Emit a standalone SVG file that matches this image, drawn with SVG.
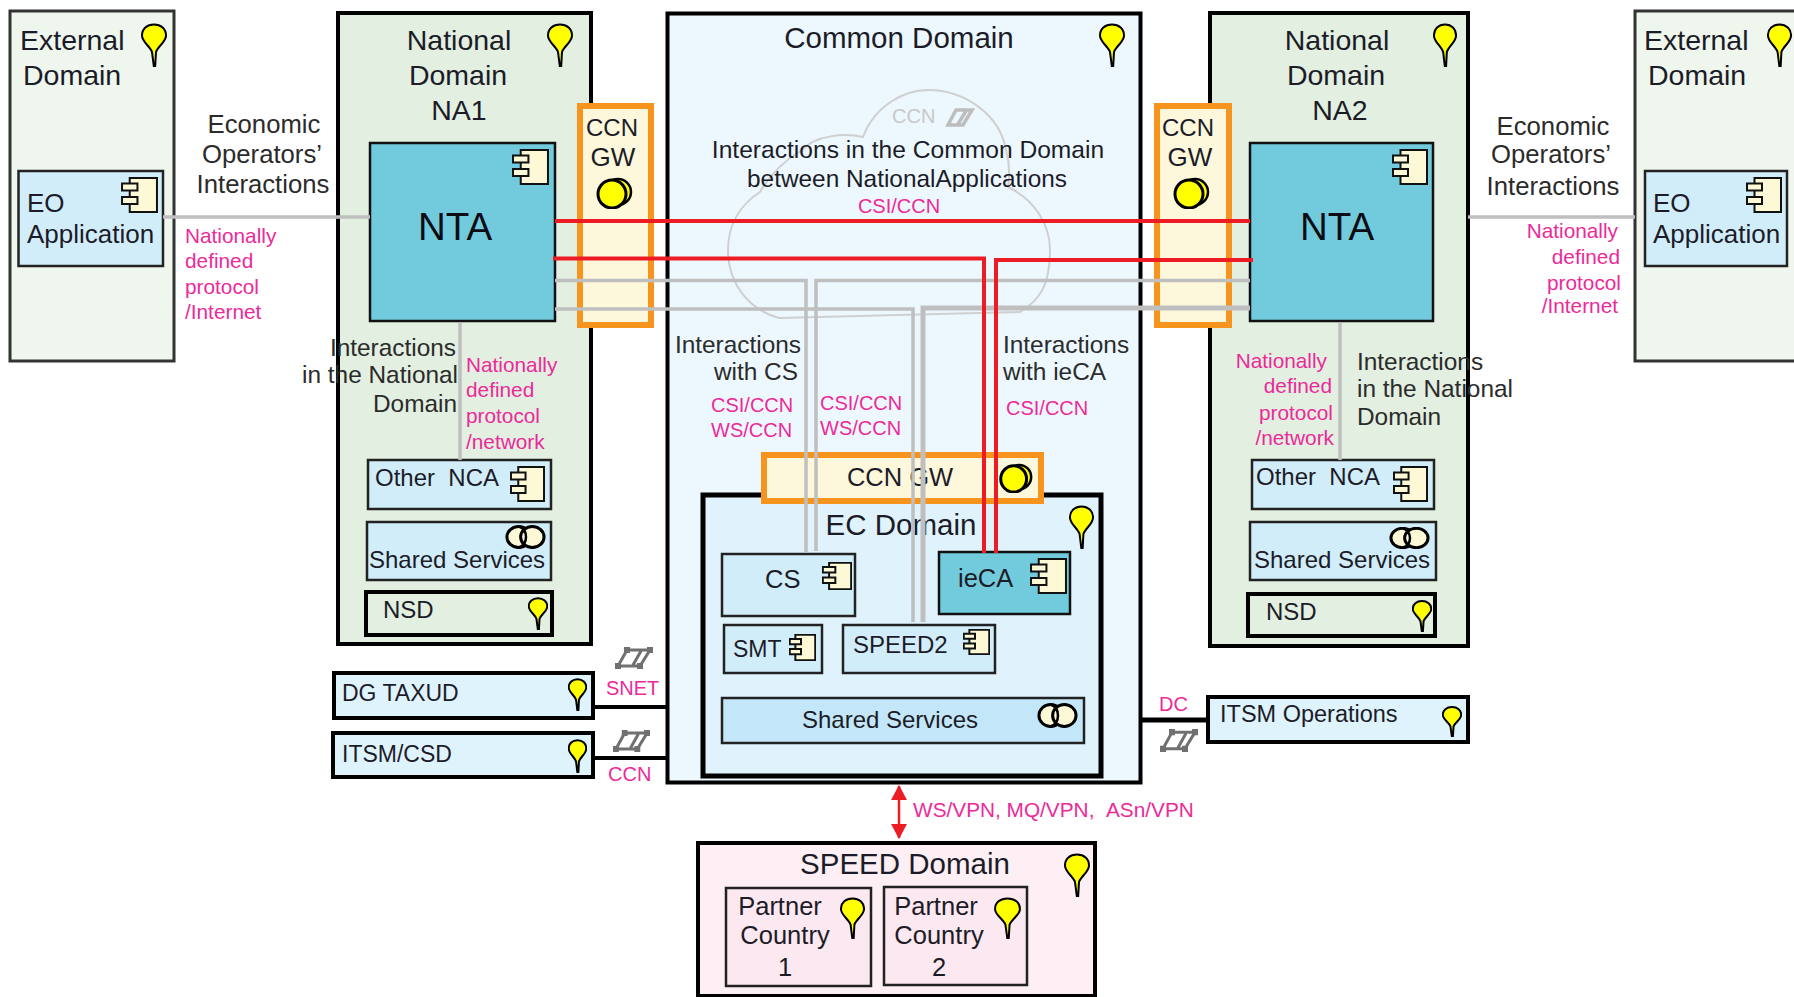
<svg xmlns="http://www.w3.org/2000/svg" xmlns:xlink="http://www.w3.org/1999/xlink" width="1794" height="997" viewBox="0 0 1794 997">
<style>
text{font-family:"Liberation Sans",Arial,sans-serif;fill:#1c1c28}
.f28{font-size:28.500px}.h{font-size:29.500px}.f26{font-size:26px}.f25{font-size:25.500px}.f24{font-size:24px}.f23{font-size:23px}
.c{text-anchor:middle}.e{text-anchor:end}
.p{font-size:20.800px;fill:#ec2a9a}
.g{font-size:24.400px;fill:#2b2b2b}
.g2{font-size:25.700px;fill:#2b2b2b}
.ext{fill:#eff6ee;stroke:#333;stroke-width:3}
.nat{fill:#e2efe1;stroke:#000;stroke-width:4}
.com{fill:#ecf8fe;stroke:#000;stroke-width:4}
.ecd{fill:#e0f3fd;stroke:#000;stroke-width:5}
.gw{fill:#fdf8dc;stroke:#f7941e;stroke-width:6}
.nta{fill:#72cbdc;stroke:#111;stroke-width:2.500}
.app{fill:#d2edfa;stroke:#222;stroke-width:2.500}
.org{fill:#dff3fd;stroke:#000;stroke-width:4}
.nsd{fill:#e2efe1;stroke:#000;stroke-width:4}
.spd{fill:#fdeff4;stroke:#000;stroke-width:4}
.pc{fill:#fce8f0;stroke:#222;stroke-width:2.500}
.s{vector-effect:non-scaling-stroke}
.red{fill:none;stroke:#ed1c24;stroke-width:4}
.gry{fill:none;stroke:#bfbfbf;stroke-width:3.500}
.blk{fill:none;stroke:#000;stroke-width:4}
</style>
<defs>
<symbol id="pin" viewBox="0 0 26 44" preserveAspectRatio="none">
<path class="s" d="M13 1.500C20 1.500 25 6 25 12.500C25 19 17 23 15 29L14.200 43H12.800L11 29C9 23 1 19 1 12.500C1 6 6 1.500 13 1.500Z" fill="#ffff00" stroke="#000" stroke-width="2"/>
</symbol>
<symbol id="comp" viewBox="0 0 36 36" preserveAspectRatio="none">
<path class="s" d="M8.500 1H35V35H8.500Z" fill="#fdf8d5" stroke="#111" stroke-width="2"/>
<rect class="s" x="1" y="6.500" width="15" height="7" fill="#fdf8d5" stroke="#111" stroke-width="2"/>
<rect class="s" x="1" y="20" width="15" height="7" fill="#fdf8d5" stroke="#111" stroke-width="2"/>
</symbol>
<symbol id="iface" viewBox="0 0 38 32" preserveAspectRatio="none">
<circle class="s" cx="23" cy="15" r="13" fill="#ffff00" stroke="#000" stroke-width="2.500"/>
<circle class="s" cx="17" cy="17" r="14" fill="#ffff00" stroke="#000" stroke-width="3"/>
</symbol>
<symbol id="collab" viewBox="0 0 42 25" preserveAspectRatio="none">
<ellipse class="s" cx="14" cy="12.500" rx="12" ry="11" fill="#fdf8d5" stroke="#000" stroke-width="3"/>
<ellipse class="s" cx="28" cy="12.500" rx="12" ry="11" fill="#fdf8d5" stroke="#000" stroke-width="3"/>
<path class="s" d="M14 1.500C24 5 24 20 14 23.500" fill="none" stroke="#000" stroke-width="2.500"/>
</symbol>
<symbol id="net" viewBox="0 0 38 22" preserveAspectRatio="none">
<path class="s" d="M12 3H35L25 19H3ZM12 3L3 19M26 4L18 18" fill="none" stroke="#707070" stroke-width="3"/>
<g fill="#707070"><rect x="9" y="0" width="6" height="6"/><rect x="32" y="0" width="6" height="6"/><rect x="22" y="16" width="6" height="6"/><rect x="0" y="16" width="6" height="6"/></g>
</symbol>
<marker id="ah" viewBox="0 0 16 16" refX="14" refY="8" markerWidth="16" markerHeight="16" markerUnits="userSpaceOnUse" orient="auto-start-reverse">
<path d="M0 0L15 8L0 16Z" fill="#ed1c24"/>
</marker>
</defs>

<g id="external-left">
<rect class="ext" x="10" y="11" width="164" height="350"/>
<text class="f28" x="20" y="50">External</text><text class="f28" x="23" y="85">Domain</text>
<use href="#pin" x="141" y="23" width="26" height="44"/>
</g>
<g id="eo-app-left">
<rect class="app" x="18.500" y="171" width="144.500" height="95"/>
<text class="f26" x="27" y="212">EO</text><text class="f26" x="27" y="243">Application</text>
<use href="#comp" x="121" y="177" width="37" height="36"/>
</g>

<g id="national-na1">
<rect class="nat" x="338" y="13" width="253" height="631"/>
<text class="f28 c" x="459" y="50">National</text><text class="f28 c" x="458" y="85">Domain</text><text class="f28 c" x="459" y="120">NA1</text>
<use href="#pin" x="547" y="23" width="26" height="44"/>
</g>
<g id="nta-1">
<rect class="nta" x="370" y="143" width="185" height="178"/>
<text class="c" x="455" y="240" style="font-size:38.500px;fill:#0c0c14">NTA</text>
<use href="#comp" x="512" y="149" width="37" height="36"/>
</g>
<g id="gw-left">
<rect class="gw" x="580" y="106" width="71" height="219"/>
<text class="f24 c" x="612" y="136" textLength="52" lengthAdjust="spacingAndGlyphs">CCN</text><text class="f26 c" x="613" y="166">GW</text>
<use href="#iface" x="595" y="177" width="38" height="32"/>
</g>
<g id="other-nca-1">
<rect class="app" x="368" y="460" width="183" height="49"/>
<text class="f24" x="375" y="486">Other&#160;&#160;NCA</text>
<use href="#comp" x="510" y="466" width="35" height="36"/>
</g>
<g id="shared-1">
<rect class="app" x="367" y="522" width="184" height="58"/>
<text class="f24" x="369" y="568">Shared Services</text>
<use href="#collab" x="505" y="525" width="41" height="24"/>
</g>
<g id="nsd-1">
<rect class="nsd" x="366" y="592" width="186" height="43"/>
<text class="f24" x="383" y="618">NSD</text>
<use href="#pin" x="528" y="597" width="20" height="33"/>
</g>

<g id="common-domain">
<rect class="com" x="667.500" y="13.500" width="473" height="769"/>
<path d="M863 137C875 105 905 90 928 90C965 90 1000 115 1006 150C1010 165 1010 175 1008 187C1035 200 1050 225 1050 250C1050 285 1040 300 1020 312L779 318C750 310 728 285 728 250C728 225 740 205 760 192C770 175 785 160 802 150C815 135 845 133 863 137Z" fill="none" stroke="#cfcfcf" stroke-width="2"/>
<text x="892" y="123" style="font-size:20px;fill:#c8c8c8">CCN</text>
<path d="M956 110H972L963 125H948ZM966 111L958 124" fill="none" stroke="#bdbdbd" stroke-width="3.500"/>
<text class="h c" x="899" y="48">Common Domain</text>
<use href="#pin" x="1099" y="23" width="26" height="44"/>
<text class="c" x="908" y="158" style="font-size:24.600px">Interactions in the Common Domain</text>
<text class="c" x="907" y="187" style="font-size:24.400px">between NationalApplications</text>
</g>

<g id="ec-domain">
<rect class="ecd" x="703" y="495" width="398" height="281"/>
<text class="h c" x="901" y="535">EC Domain</text>
<use href="#pin" x="1069" y="505" width="25" height="44"/>
</g>
<g id="gw-center">
<rect class="gw" x="764" y="455" width="277" height="46"/>
<text class="c" x="900" y="486" style="font-size:25.500px">CCN GW</text>
<use href="#iface" x="998" y="463" width="35" height="30"/>
</g>
<g id="cs">
<rect class="app" x="722" y="554" width="133" height="62"/>
<text class="f25" x="765" y="588">CS</text>
<use href="#comp" x="822" y="562" width="30" height="28"/>
</g>
<g id="ieca">
<rect class="nta" x="939" y="552" width="131" height="62"/>
<text class="f25" x="958" y="587">ieCA</text>
<use href="#comp" x="1030" y="558" width="37" height="36"/>
</g>
<g id="smt">
<rect class="app" x="724" y="625" width="98" height="48"/>
<text class="f23" x="733" y="657">SMT</text>
<use href="#comp" x="789" y="634" width="27" height="27"/>
</g>
<g id="speed2">
<rect class="app" x="843" y="625" width="152" height="48"/>
<text class="f24" x="853" y="653">SPEED2</text>
<use href="#comp" x="963" y="629" width="27" height="26"/>
</g>
<g id="shared-ec">
<rect x="722" y="698" width="362" height="45" fill="#c3e7f8" stroke="#222" stroke-width="2.500"/>
<text class="f24 c" x="890" y="728">Shared Services</text>
<use href="#collab" x="1037" y="703" width="41" height="25"/>
</g>

<g id="national-na2">
<rect class="nat" x="1210" y="13" width="258" height="633"/>
<text class="f28 c" x="1337" y="50">National</text><text class="f28 c" x="1336" y="85">Domain</text><text class="f28 c" x="1340" y="120">NA2</text>
<use href="#pin" x="1433" y="23" width="24" height="44"/>
</g>
<g id="nta-2">
<rect class="nta" x="1250" y="143" width="183" height="178"/>
<text class="c" x="1337" y="240" style="font-size:38.500px;fill:#0c0c14">NTA</text>
<use href="#comp" x="1392" y="149" width="36" height="36"/>
</g>
<g id="gw-right">
<rect class="gw" x="1157" y="106" width="72" height="219"/>
<text class="f24 c" x="1188" y="136" textLength="52" lengthAdjust="spacingAndGlyphs">CCN</text><text class="f26 c" x="1190" y="166">GW</text>
<use href="#iface" x="1172" y="177" width="38" height="32"/>
</g>
<g id="other-nca-2">
<rect class="app" x="1252" y="460" width="182" height="49"/>
<text class="f24" x="1256" y="485">Other&#160;&#160;NCA</text>
<use href="#comp" x="1393" y="466" width="35" height="36"/>
</g>
<g id="shared-2">
<rect class="app" x="1250" y="522" width="186" height="58"/>
<text class="f24" x="1254" y="568">Shared Services</text>
<use href="#collab" x="1389" y="527" width="41" height="22"/>
</g>
<g id="nsd-2">
<rect class="nsd" x="1248" y="594" width="187" height="42"/>
<text class="f24" x="1266" y="620">NSD</text>
<use href="#pin" x="1412" y="600" width="20" height="32"/>
</g>

<g id="external-right">
<rect class="ext" x="1635" y="11" width="180" height="350"/>
<text class="f28" x="1644" y="50">External</text><text class="f28" x="1648" y="85">Domain</text>
<use href="#pin" x="1767" y="23" width="25" height="44"/>
</g>
<g id="eo-app-right">
<rect class="app" x="1645" y="171" width="142" height="95"/>
<text class="f26" x="1653" y="212">EO</text><text class="f26" x="1653" y="243">Application</text>
<use href="#comp" x="1746" y="177" width="36" height="36"/>
</g>

<g id="dg-taxud">
<rect class="org" x="334" y="673" width="259" height="45"/>
<text class="f23" x="342" y="701">DG TAXUD</text>
<use href="#pin" x="568" y="678" width="19" height="33"/>
</g>
<g id="itsm-csd">
<rect class="org" x="333" y="733" width="260" height="44"/>
<text class="f23" x="342" y="762">ITSM/CSD</text>
<use href="#pin" x="568" y="739" width="19" height="34"/>
</g>
<g id="itsm-ops">
<rect class="org" x="1208" y="697" width="260" height="45"/>
<text x="1220" y="722" style="font-size:23.500px">ITSM Operations</text>
<use href="#pin" x="1442" y="706" width="20" height="31"/>
</g>

<g id="speed-domain">
<rect class="spd" x="698" y="843" width="397" height="153"/>
<text class="h c" x="905" y="874">SPEED Domain</text>
<use href="#pin" x="1064" y="853" width="26" height="44"/>
</g>
<g id="partner-1">
<rect class="pc" x="726" y="888" width="145" height="98"/>
<text class="f25 c" x="780" y="915">Partner</text><text class="f25 c" x="785" y="944">Country</text><text class="f25 c" x="785" y="976">1</text>
<use href="#pin" x="840" y="897" width="25" height="42"/>
</g>
<g id="partner-2">
<rect class="pc" x="884" y="887" width="143" height="98"/>
<text class="f25 c" x="936" y="915">Partner</text><text class="f25 c" x="939" y="944">Country</text><text class="f25 c" x="939" y="976">2</text>
<use href="#pin" x="994" y="897" width="27" height="42"/>
</g>

<g id="connectors">
<path class="gry" d="M163 217H370M1468 217H1635M460 323V460M1340 323V460"/>
<path class="gry" d="M555 280.500H806V553M1250 280.500H816V551M555 309H913V622"/>
<path class="gry" style="stroke-width:5" d="M1250 308H923V622"/>
<path class="red" d="M555 221H1250M553 258.500H984V553M1253 260H996V553"/>
<path class="blk" d="M593 707H667M593 758H667"/>
<path class="blk" style="stroke-width:5" d="M1141 720H1207"/>
<line x1="899" y1="786" x2="899" y2="838" stroke="#ed1c24" stroke-width="2.500" marker-start="url(#ah)" marker-end="url(#ah)"/>
<use href="#net" x="615" y="647" width="38" height="22"/>
<use href="#net" x="613" y="730" width="37" height="22"/>
<use href="#net" x="1160" y="729" width="38" height="23"/>
</g>

<g id="labels">
<text class="g2 c" x="264" y="133">Economic</text><text class="g2 c" x="262" y="163">Operators’</text><text class="g2 c" x="263" y="193">Interactions</text>
<text class="g2 c" x="1553" y="135">Economic</text><text class="g2 c" x="1551" y="163">Operators’</text><text class="g2 c" x="1553" y="195">Interactions</text>
<text class="p" x="185" y="243">Nationally</text><text class="p" x="185" y="268">defined</text><text class="p" x="185" y="294">protocol</text><text class="p" x="185" y="319">/Internet</text>
<text class="p e" x="1618" y="238">Nationally</text><text class="p e" x="1620" y="264">defined</text><text class="p e" x="1621" y="290">protocol</text><text class="p e" x="1618" y="313">/Internet</text>
<text class="g e" x="456" y="356">Interactions</text><text class="g e" x="458" y="383">in the National</text><text class="g e" x="457" y="412">Domain</text>
<text class="p" x="466" y="372">Nationally</text><text class="p" x="466" y="397">defined</text><text class="p" x="466" y="423">protocol</text><text class="p" x="466" y="449">/network</text>
<text class="p e" x="1327" y="368">Nationally</text><text class="p e" x="1332" y="393">defined</text><text class="p e" x="1333" y="420">protocol</text><text class="p e" x="1334" y="445">/network</text>
<text class="g" x="1357" y="370">Interactions</text><text class="g" x="1357" y="397">in the National</text><text class="g" x="1357" y="425">Domain</text>
<text class="p c" x="899" y="213" style="font-size:20px">CSI/CCN</text>
<text class="g e" x="801" y="353">Interactions</text><text class="g e" x="798" y="380">with CS</text>
<text class="g" x="1003" y="353">Interactions</text><text class="g" x="1003" y="380">with ieCA</text>
<text class="p" x="711" y="412" style="font-size:20px">CSI/CCN</text><text class="p" x="711" y="437" style="font-size:20px">WS/CCN</text>
<text class="p" x="820" y="410" style="font-size:20px">CSI/CCN</text><text class="p" x="820" y="435" style="font-size:20px">WS/CCN</text>
<text class="p" x="1006" y="415" style="font-size:20px">CSI/CCN</text>
<text class="p" x="606" y="695" style="font-size:20px">SNET</text><text class="p" x="608" y="781" style="font-size:20px">CCN</text><text class="p" x="1159" y="711" style="font-size:20px">DC</text>
<text class="p" x="913" y="817">WS/VPN, MQ/VPN,&#160;&#160;ASn/VPN</text>
</g>
</svg>
